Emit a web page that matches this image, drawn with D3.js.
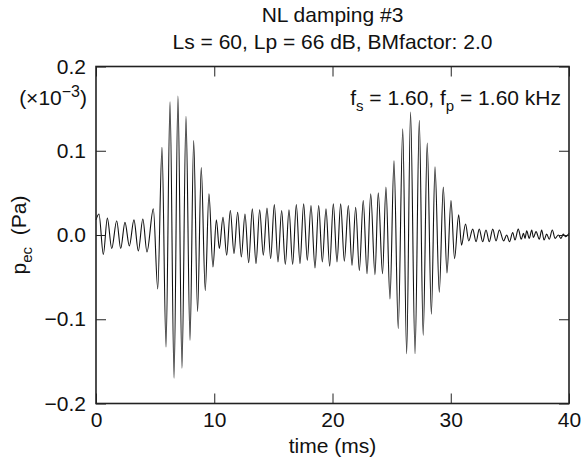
<!DOCTYPE html>
<html>
<head>
<meta charset="utf-8">
<script src="https://cdn.jsdelivr.net/npm/d3@7"></script>
<style>
  body { margin: 0; background: #fff; }
  text { font-family: 'Liberation Sans', Arial, Helvetica, sans-serif; fill: #111; }
</style>
</head>
<body>
<div id="chart"></div>
<script>
// Extrema of the ear-canal pressure trace
// time in ms, pressure in units of 1e-3 Pa
const timeMs = [
  0.00, 0.25, 0.62, 0.96, 1.33, 1.75, 2.09, 2.45, 2.82, 3.21, 3.58, 3.96, 4.31, 4.85,
  5.22, 5.58, 5.92, 6.26, 6.60, 6.93, 7.27, 7.61, 7.95, 8.26, 8.59, 8.90, 9.24, 9.55,
  9.89, 10.18, 10.43, 10.74, 11.05, 11.36, 11.67, 11.98, 12.29, 12.60, 12.91, 13.22,
  13.53, 13.84, 14.15, 14.46, 14.77, 15.08, 15.39, 15.70, 16.01, 16.32, 16.63, 16.94,
  17.25, 17.56, 17.87, 18.18, 18.52, 18.83, 19.14, 19.45, 19.76, 20.07, 20.38, 20.69,
  21.00, 21.34, 21.65, 21.96, 22.27, 22.60, 22.92, 23.23, 23.59, 23.87, 24.23, 24.52,
  24.86, 25.20, 25.56, 25.94, 26.27, 26.60, 26.98, 27.34, 27.67, 28.01, 28.36, 28.67,
  29.03, 29.37, 29.68, 30.02, 30.32, 30.67, 30.91, 31.25, 31.52, 31.86, 32.14, 32.41,
  32.70, 32.98, 33.26, 33.55, 33.83, 34.11, 34.47, 34.73, 34.97, 35.24, 35.43, 35.71,
  35.96, 36.15, 36.28, 36.42, 36.64, 36.85, 36.99, 37.21, 37.49, 37.69, 37.89, 38.11,
  38.33, 38.59, 38.82, 39.10, 39.32, 39.52, 39.72, 40.00
];
const pressure = [
  0.018, 0.025, -0.023, 0.020, -0.016, 0.017, -0.016, 0.015, -0.013, 0.018, -0.019, 0.019, -0.020, 0.031,
  -0.064, 0.104, -0.133, 0.158, -0.170, 0.165, -0.158, 0.141, -0.125, 0.112, -0.091, 0.080, -0.066, 0.049,
  -0.038, 0.018, -0.016, 0.021, -0.024, 0.029, -0.022, 0.027, -0.026, 0.025, -0.033, 0.031,
  -0.034, 0.030, -0.024, 0.032, -0.028, 0.036, -0.032, 0.029, -0.035, 0.030, -0.035, 0.036,
  -0.034, 0.037, -0.030, 0.035, -0.039, 0.035, -0.032, 0.031, -0.037, 0.037, -0.032, 0.037,
  -0.031, 0.035, -0.036, 0.033, -0.042, 0.041, -0.046, 0.049, -0.047, 0.050, -0.046, 0.057,
  -0.076, 0.088, -0.111, 0.126, -0.141, 0.146, -0.141, 0.136, -0.119, 0.109, -0.094, 0.081,
  -0.068, 0.057, -0.045, 0.041, -0.028, 0.024, -0.012, 0.013, -0.007, 0.007, -0.008, 0.007,
  -0.008, 0.006, -0.008, 0.007, -0.007, 0.006, -0.007, 0.000, -0.008, 0.003, -0.006, 0.007,
  -0.005, 0.002, -0.004, 0.005, -0.004, 0.006, -0.003, 0.004, -0.005, 0.006, -0.006, 0.001,
  -0.005, 0.006, -0.004, 0.000, -0.004, 0.001, -0.002, 0.002
];
const xTicks = [0, 10, 20, 30, 40];
const yTicks = [-0.2, -0.1, 0, 0.1, 0.2];
const yTickLabels = ['\u22120.2', '\u22120.1', '0.0', '0.1', '0.2'];

const W = 584, H = 464;
const margin = { top: 66.5, right: 15, bottom: 60.5, left: 96 };
const width = W - margin.left - margin.right;
const height = H - margin.top - margin.bottom;

const x = d3.scaleLinear().domain([0, 40]).range([0, width]);
const y = d3.scaleLinear().domain([-0.2, 0.2]).range([height, 0]);

const svg = d3.select('#chart')
  .append('svg')
  .attr('width', W)
  .attr('height', H);

const g = svg.append('g')
  .attr('transform', `translate(${margin.left},${margin.top})`);

// waveform
const pts = timeMs.map((t, i) => [t, pressure[i]]);
const line = d3.line()
  .x(d => x(d[0]))
  .y(d => y(d[1]))
  .curve(d3.curveMonotoneX);

g.append('path')
  .datum(pts)
  .attr('d', line)
  .attr('fill', 'none')
  .attr('stroke', '#111')
  .attr('stroke-width', 1.1);

// axes with inward ticks on all four sides
const tickLen = 10;
const fontSize = '21px';
const subSize = '15px';

const xb = g.append('g')
  .attr('transform', `translate(0,${height})`)
  .call(d3.axisBottom(x).tickValues(xTicks).tickSize(-tickLen).tickPadding(9));
const xt = g.append('g')
  .call(d3.axisTop(x).tickValues(xTicks).tickSize(-tickLen).tickFormat(''));
const yl = g.append('g')
  .call(d3.axisLeft(y).tickValues(yTicks).tickSize(-tickLen).tickPadding(10)
    .tickFormat((d, i) => yTickLabels[i]));
const yr = g.append('g')
  .attr('transform', `translate(${width},0)`)
  .call(d3.axisRight(y).tickValues(yTicks).tickSize(-tickLen).tickFormat(''));

[xb, xt, yl, yr].forEach(a => {
  a.select('.domain').remove();
  a.selectAll('line').attr('stroke', '#222').attr('stroke-width', 1);
  a.selectAll('text').style('font-size', fontSize).attr('fill', '#111');
});

// frame
g.append('rect')
  .attr('width', width)
  .attr('height', height)
  .attr('fill', 'none')
  .attr('stroke', '#222')
  .attr('stroke-width', 1.6);

// titles
const cx = margin.left + width / 2;
svg.append('text')
  .attr('x', cx).attr('y', 22)
  .attr('text-anchor', 'middle')
  .style('font-size', fontSize)
  .text('NL damping #3');
svg.append('text')
  .attr('x', cx).attr('y', 49)
  .attr('text-anchor', 'middle')
  .style('font-size', fontSize)
  .text('Ls = 60, Lp = 66 dB, BMfactor: 2.0');

// x label
svg.append('text')
  .attr('x', cx).attr('y', 453)
  .attr('text-anchor', 'middle')
  .style('font-size', fontSize)
  .text('time (ms)');

// y label
const ylab = svg.append('text')
  .attr('transform', `translate(26,${margin.top + height / 2}) rotate(-90)`)
  .attr('text-anchor', 'middle')
  .style('font-size', fontSize);
ylab.append('tspan').text('p');
ylab.append('tspan').attr('dy', 6).style('font-size', subSize).text('ec');
ylab.append('tspan').attr('dy', -6).text('\u00a0 (Pa)');

// scale factor
const sf = svg.append('text')
  .attr('x', 87).attr('y', 105)
  .attr('text-anchor', 'end')
  .style('font-size', fontSize);
sf.append('tspan').text('(\u00d710');
sf.append('tspan').attr('dy', -8).style('font-size', '16px').text('\u22123');
sf.append('tspan').attr('dy', 8).text(')');

// annotation
const ann = svg.append('text')
  .attr('x', 561).attr('y', 105)
  .attr('text-anchor', 'end')
  .style('font-size', fontSize);
ann.append('tspan').text('f');
ann.append('tspan').attr('dy', 6).style('font-size', subSize).text('s');
ann.append('tspan').attr('dy', -6).text(' = 1.60, f');
ann.append('tspan').attr('dy', 6).style('font-size', subSize).text('p');
ann.append('tspan').attr('dy', -6).text(' = 1.60 kHz');
</script>
</body>
</html>
